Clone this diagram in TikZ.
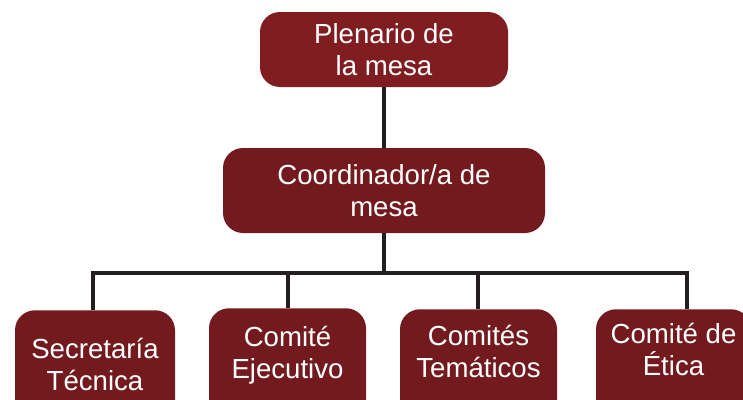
\documentclass[tikz,border=0pt]{standalone}
\usepackage{fontspec}
\setmainfont{Liberation Sans}
\usetikzlibrary{positioning, calc}
\definecolor{topRed}{HTML}{7F1D20}
\definecolor{boxRed}{HTML}{731A1E}
\definecolor{lineBlack}{HTML}{231F20}
\tikzset{
    % Chart styles
    orgBox/.style={rectangle, rounded corners=15pt, draw=none, fill=boxRed,
        text=white, align=center, inner sep=0pt,
        font={\fontsize{20.7}{24}\selectfont}},
    % committee boxes run off the bottom edge
    unitBox/.style={orgBox, anchor=north, text height=#1*0.75pt, text depth=(130-#1)*0.75pt},
    linkLine/.style={draw=lineBlack, line width=2.3pt}
}
\begin{document}
\begin{tikzpicture}[x=0.75pt, y=-0.75pt]
    \useasboundingbox (0,0) rectangle (743,400);
    % Top levels
    \node[orgBox, fill=topRed, minimum width=248*0.75pt, minimum height=75*0.75pt] (plenario) at (384,49.5) {Plenario de\\la mesa};
    \node[orgBox, minimum width=322*0.75pt, minimum height=85*0.75pt] (coord) at (384,190.5) {Coordinador/a de\\mesa};

    % Committees
    \node[unitBox=80, minimum width=160*0.75pt] (secre) at (95,310) {Secretaría\\Técnica};
    \node[unitBox=70, minimum width=157*0.75pt] (ejecu) at (287.5,308) {Comité\\Ejecutivo};
    \node[unitBox=68, minimum width=157*0.75pt] (temas) at (478.5,309) {Comités\\Temáticos};
    \node[unitBox=66, minimum width=155*0.75pt] (etica) at (673.5,309) {Comité de\\Ética};

    % Links
    \coordinate (tapSecre) at (93,273);
    \coordinate (tapEjecu) at (288,273);
    \coordinate (tapTemas) at (478,273);
    \coordinate (tapEtica) at (687,273);
    \draw[linkLine] (plenario.south) -- (coord.north);
    \draw[linkLine] (coord.south) -- (coord.south |- tapSecre);
    \draw[linkLine, line cap=rect] (tapSecre) -- (tapEtica);
    \foreach \b/\t in {secre/tapSecre, ejecu/tapEjecu, temas/tapTemas, etica/tapEtica}
        \draw[linkLine] (\t) -- (\t |- \b.north);
\end{tikzpicture}
\end{document}
